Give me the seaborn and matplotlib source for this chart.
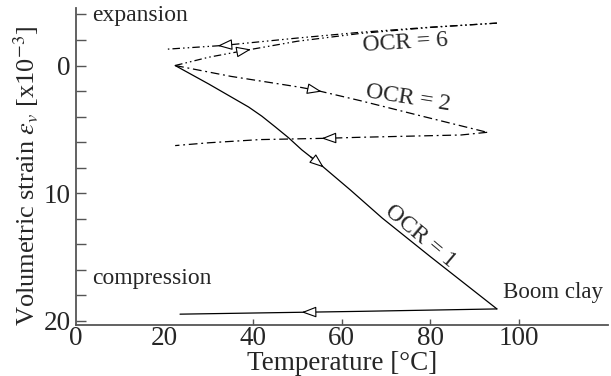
"""
Thermal volumetric strain of Boom clay for three OCR values.
"""

import numpy as np
import pandas as pd
import matplotlib

matplotlib.use("Agg")
import matplotlib.pyplot as plt
import seaborn as sns
from matplotlib.ticker import MultipleLocator, FixedLocator

# OCR = 1 : heating then cooling
ocr1_heat_T = [22.4, 30.0, 36.0, 39.0, 42.0, 45.0, 48.0, 51.0, 55.1, 62.0, 69.2, 80.0, 95.1]
ocr1_heat_e = [0.0, 1.45, 2.65, 3.25, 3.97, 4.8, 5.65, 6.6, 7.72, 9.75, 11.95, 14.95, 19.06]
ocr1_cool_T = [95.1, 64.2, 23.5]
ocr1_cool_e = [19.06, 19.25, 19.47]

# OCR = 2
ocr2_heat_T = [22.4, 35.0, 50.6, 54.5, 64.2, 78.0, 92.9]
ocr2_heat_e = [0.0, 0.85, 1.7, 1.96, 2.75, 3.95, 5.23]
ocr2_cool_T = [92.9, 87.0, 64.2, 56.3, 41.6, 30.0, 22.4]
ocr2_cool_e = [5.23, 5.44, 5.62, 5.7, 5.8, 6.05, 6.27]

# OCR = 6
ocr6_heat_T = [22.4, 30.0, 38.2, 50.0, 64.2, 80.0, 95.1]
ocr6_heat_e = [0.0, -0.65, -1.18, -1.9, -2.51, -2.98, -3.32]
ocr6_cool_T = [95.1, 80.0, 64.2, 50.0, 33.2, 20.6]
ocr6_cool_e = [-3.32, -3.0, -2.6, -2.15, -1.57, -1.28]

# arrow positions (temperature at the arrow head) on each branch
arrow_T = {
    "ocr1_heat": 56.0,
    "ocr1_cool": 51.0,
    "ocr2_heat": 55.5,
    "ocr2_cool": 55.5,
    "ocr6_heat": 39.5,
    "ocr6_cool": 32.0,
}

x_ticks = [0, 20, 40, 60, 80, 100]
y_ticks = [0, 10, 20]

rows = []
branches = {
    "ocr1_heat": (ocr1_heat_T, ocr1_heat_e),
    "ocr1_cool": (ocr1_cool_T, ocr1_cool_e),
    "ocr2_heat": (ocr2_heat_T, ocr2_heat_e),
    "ocr2_cool": (ocr2_cool_T, ocr2_cool_e),
    "ocr6_heat": (ocr6_heat_T, ocr6_heat_e),
    "ocr6_cool": (ocr6_cool_T, ocr6_cool_e),
}
for name, (ts, es) in branches.items():
    for t, e in zip(ts, es):
        rows.append({"branch": name, "T": t, "eps": e})
df = pd.DataFrame(rows)

styles = {
    "ocr1": "-",
    "ocr2": (0, (7, 3, 1.5, 3)),
    "ocr6": (0, (6, 2.5, 1.2, 2.5, 1.2, 2.5)),
}

sns.set_theme(style="ticks")
plt.rcParams["font.family"] = ["Liberation Serif", "DejaVu Serif"]
plt.rcParams["mathtext.fontset"] = "stix"

fig = plt.figure(figsize=(6.11, 3.76), dpi=100)
ax = fig.add_axes([0.1244, 0.1356, 0.8707, 0.843])

for name in branches:
    sub = df[df["branch"] == name]
    sns.lineplot(
        data=sub, x="T", y="eps", ax=ax, sort=False, estimator=None,
        color="black", linewidth=0.9, linestyle=styles[name[:4]],
    )

# open arrow heads along each branch
for name, t_head in arrow_T.items():
    ts, es = branches[name]
    ts = np.array(ts)
    es = np.array(es)
    heating = ts[-1] > ts[0]
    order = np.argsort(ts)
    e_head = np.interp(t_head, ts[order], es[order])
    t_tail = t_head - 3.0 if heating else t_head + 3.0
    e_tail = np.interp(t_tail, ts[order], es[order])
    ax.annotate(
        "", xy=(t_head, e_head), xytext=(t_tail, e_tail),
        arrowprops=dict(
            arrowstyle="-|>,head_length=0.75,head_width=0.28",
            fc="white", ec="black", lw=0.8, shrinkA=0, shrinkB=0,
        ),
    )

ax.set_xlim(0, 120.2)
ax.set_ylim(20.32, -4.5)

ax.xaxis.set_major_locator(FixedLocator(x_ticks))
ax.yaxis.set_major_locator(FixedLocator(y_ticks))
ax.yaxis.set_minor_locator(MultipleLocator(2))
ax.tick_params(axis="y", which="both", direction="in", length=7, width=1,
               color="#555555", labelsize=19.5, pad=4)
ax.tick_params(axis="x", which="major", direction="in", length=4.5, width=1,
               color="#555555", labelsize=19.5, pad=1)
for tk in ax.xaxis.get_major_ticks()[:2]:
    tk.tick1line.set_visible(False)

sns.despine(ax=ax)
for side in ["left", "bottom"]:
    ax.spines[side].set_color("#555555")
    ax.spines[side].set_linewidth(1.3)

ax.set_xlabel("Temperature [°C]", fontsize=19.5, labelpad=0)
ax.set_ylabel(r"Volumetric strain $\varepsilon_v$ [x10$^{\mathrm{-3}}$]", fontsize=19)
ax.yaxis.set_label_coords(-0.065, 0.47)

ax.text(3.6, -3.45, "expansion", fontsize=17, va="baseline")
ax.text(3.6, 17.13, "compression", fontsize=17, va="baseline")
ax.text(96.5, 18.23, "Boom clay", fontsize=16.5, va="baseline")
ax.text(74.3, -1.78, "OCR = 6", fontsize=17, ha="center", va="center", rotation=3.5)
ax.text(75.0, 2.6, "OCR = 2", fontsize=17, ha="center", va="center", rotation=-9)
ax.text(77.7, 13.4, "OCR = 1", fontsize=17, ha="center", va="center", rotation=-40)

fig.savefig("out.png", dpi=100)
